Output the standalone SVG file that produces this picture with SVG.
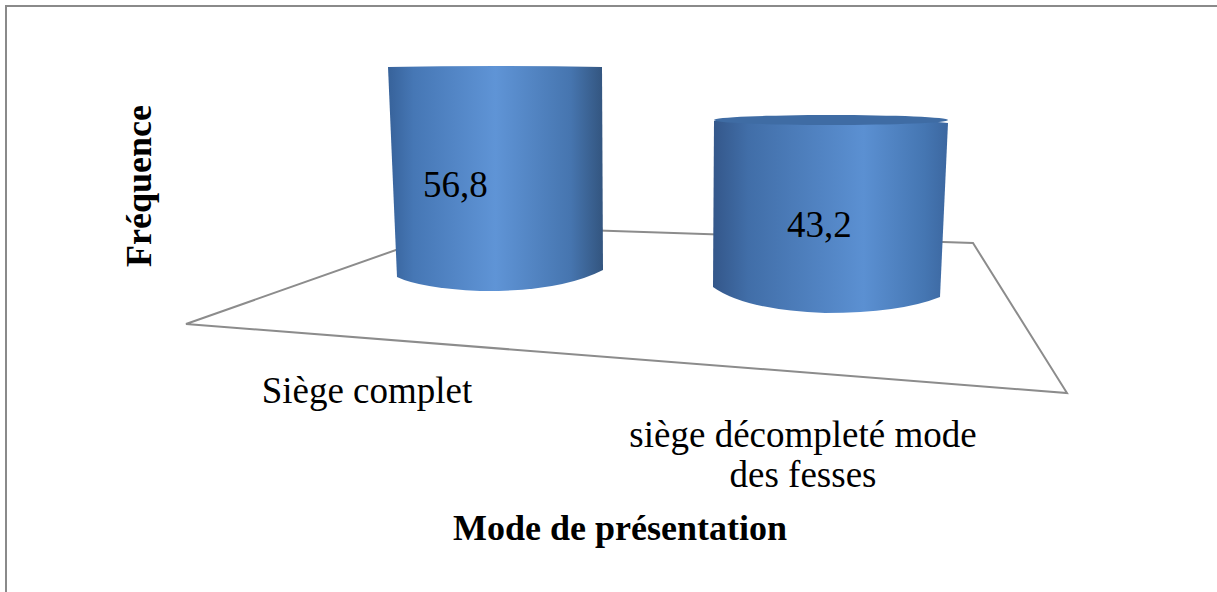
<svg xmlns="http://www.w3.org/2000/svg" width="1217" height="592" viewBox="0 0 1217 592">
<defs>
<linearGradient id="g1" x1="0" y1="0" x2="1" y2="0">
<stop offset="0" stop-color="#37629a"/>
<stop offset="0.12" stop-color="#4677b5"/>
<stop offset="0.5" stop-color="#5f94d6"/>
<stop offset="0.85" stop-color="#4675af"/>
<stop offset="1" stop-color="#33557f"/>
</linearGradient>
<linearGradient id="g2" x1="0" y1="0" x2="1" y2="0">
<stop offset="0" stop-color="#34578a"/>
<stop offset="0.15" stop-color="#416ea8"/>
<stop offset="0.64" stop-color="#5b90d2"/>
<stop offset="0.9" stop-color="#4576b2"/>
<stop offset="1" stop-color="#3c67a0"/>
</linearGradient>
<style>
.frame{stroke:#8a8a8a;stroke-width:2;fill:none}
.floor{stroke:#8c8c8c;stroke-width:2;fill:none;stroke-linejoin:miter}
.val{font-family:"Liberation Serif",serif;font-size:37px;fill:#000}
.lab{font-family:"Liberation Serif",serif;font-size:37px;fill:#000;text-anchor:middle}
.ttl{font-family:"Liberation Serif",serif;font-size:36px;font-weight:bold;fill:#000;text-anchor:middle}
</style>
</defs>
<rect width="1217" height="592" fill="#fff"/>
<path class="frame" d="M6,592 V6 H1217"/>
<g id="floor">
<path class="floor" d="M186,324 L464,226 L973,243 L1067,393 Z"/>
</g>
<g id="bar1">
<path d="M388,67 Q495,65 602,67 L603,270 Q560,292 480,291 Q420,288 397,277 Z" fill="url(#g1)"/>
<text class="val" x="423" y="197">56,8</text>
</g>
<g id="bar2">
<path d="M714,121 Q831,110 948,123 L940,297 Q900,313 825,313 Q745,310 713,287 Z" fill="url(#g2)"/>
<ellipse cx="831" cy="120" rx="117" ry="5" fill="#3f6ca4"/>
<text class="val" x="787" y="237">43,2</text>
</g>
<g id="labels">
<text class="lab" x="367" y="403">Siège complet</text>
<text class="lab" x="803" y="447">siège décompleté mode</text>
<text class="lab" x="803" y="487">des fesses</text>
<text class="ttl" x="620" y="540">Mode de présentation</text>
<text class="ttl" transform="translate(151,186) rotate(-90)" x="0" y="0">Fréquence</text>
</g>
</svg>
